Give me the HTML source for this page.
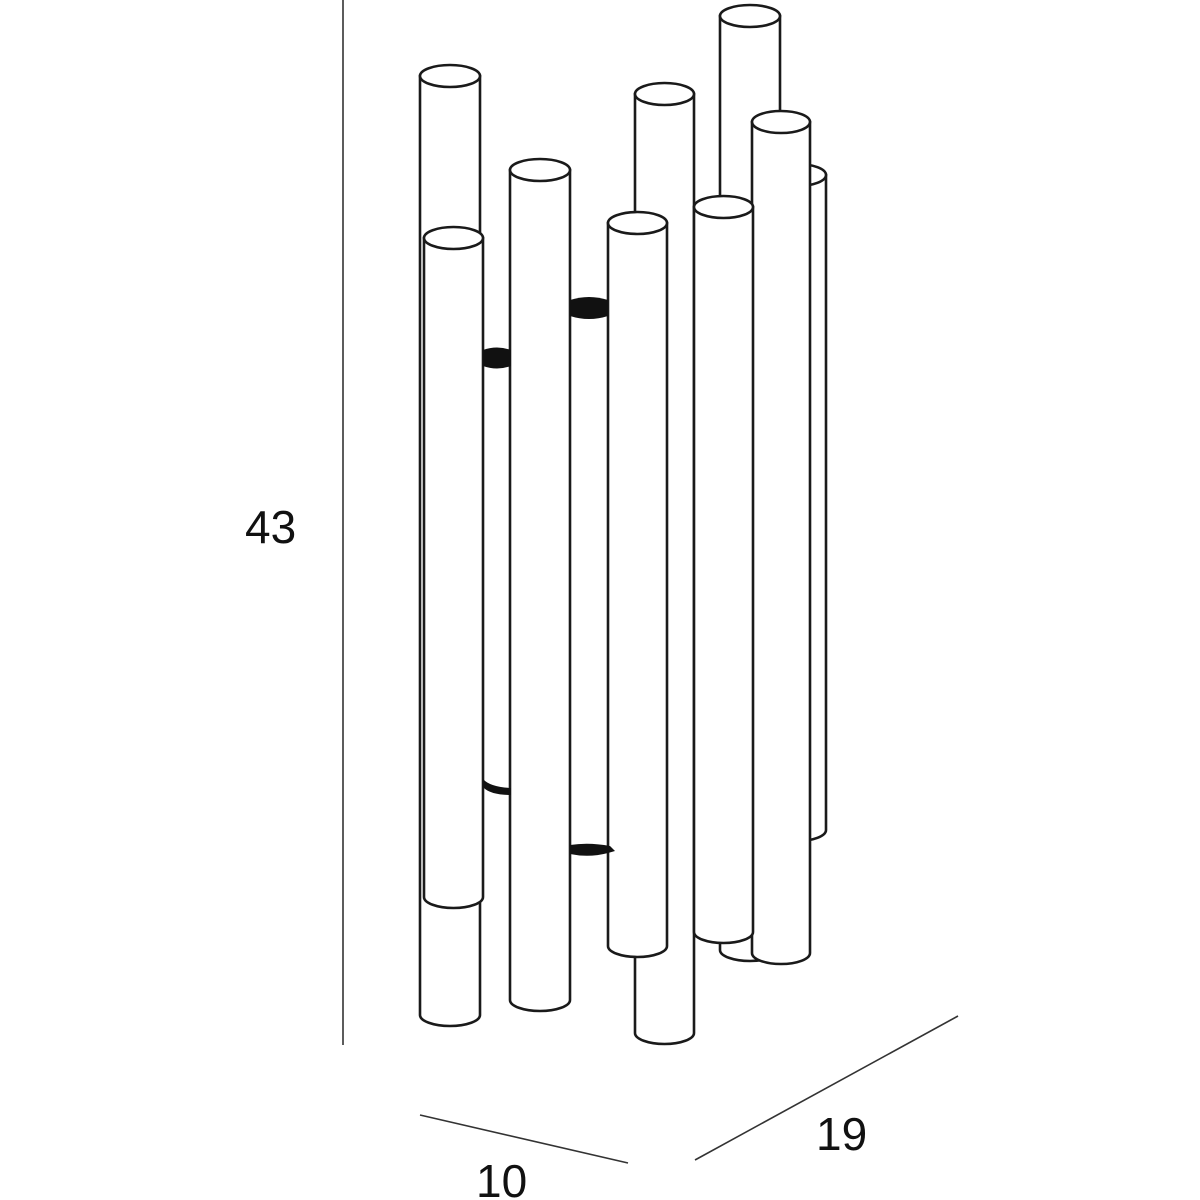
<!DOCTYPE html>
<html><head><meta charset="utf-8"><style>html,body{margin:0;padding:0;background:#fff}svg{display:block}</style></head>
<body>
<svg width="1200" height="1200" viewBox="0 0 1200 1200" xmlns="http://www.w3.org/2000/svg">
<g fill="#fff" stroke="#1a1a1a" stroke-width="2.6">
<path d="M720 16 V950 A30 11 0 0 0 780 950 V16 Z"/><ellipse cx="750" cy="16" rx="30" ry="11"/>
<path d="M768 175 V830 A29 11 0 0 0 826 830 V175 Z"/><ellipse cx="797" cy="175" rx="29" ry="11"/>
<path d="M635 94 V1033 A29.5 11 0 0 0 694 1033 V94 Z"/><ellipse cx="664.5" cy="94" rx="29.5" ry="11"/>
<path d="M420 76 V1015 A30 11 0 0 0 480 1015 V76 Z"/><ellipse cx="450" cy="76" rx="30" ry="11"/>
<path d="M510 170 V1000 A30 11 0 0 0 570 1000 V170 Z"/><ellipse cx="540" cy="170" rx="30" ry="11"/>
<path d="M752 122 V953 A29 11 0 0 0 810 953 V122 Z"/><ellipse cx="781" cy="122" rx="29" ry="11"/>
<path d="M694 207 V932 A29.5 11 0 0 0 753 932 V207 Z"/><ellipse cx="723.5" cy="207" rx="29.5" ry="11"/>
<path d="M608 223 V946 A29.5 11 0 0 0 667 946 V223 Z"/><ellipse cx="637.5" cy="223" rx="29.5" ry="11"/>
<path d="M424 238 V897 A29.5 11 0 0 0 483 897 V238 Z"/><ellipse cx="453.5" cy="238" rx="29.5" ry="11"/>
</g>
<g fill="#111">
<path d="M483 350 Q497 345 511 350 V366 Q497 371 483 366 Z"/>
<path d="M570 300 Q589 294 608 300 V316 Q589 322 570 316 Z"/>
<path d="M483 779 Q490 787 511 788 V795 Q490 795 483 787 Z"/>
<path d="M570 845 Q589 842 610 846 L615 851 L608 853 Q589 858 570 854 Z"/>
</g>
<g stroke="#333" stroke-width="1.6" fill="none">
<line x1="343" y1="0" x2="343" y2="1045"/>
<line x1="420" y1="1115" x2="628" y2="1163"/>
<line x1="695" y1="1160" x2="958" y2="1016"/>
</g>
<g font-family="Liberation Sans, sans-serif" font-size="46" fill="#111">
<text x="245" y="543">43</text>
<text x="476" y="1197">10</text>
<text x="816" y="1150">19</text>
</g>
</svg>
</body></html>
